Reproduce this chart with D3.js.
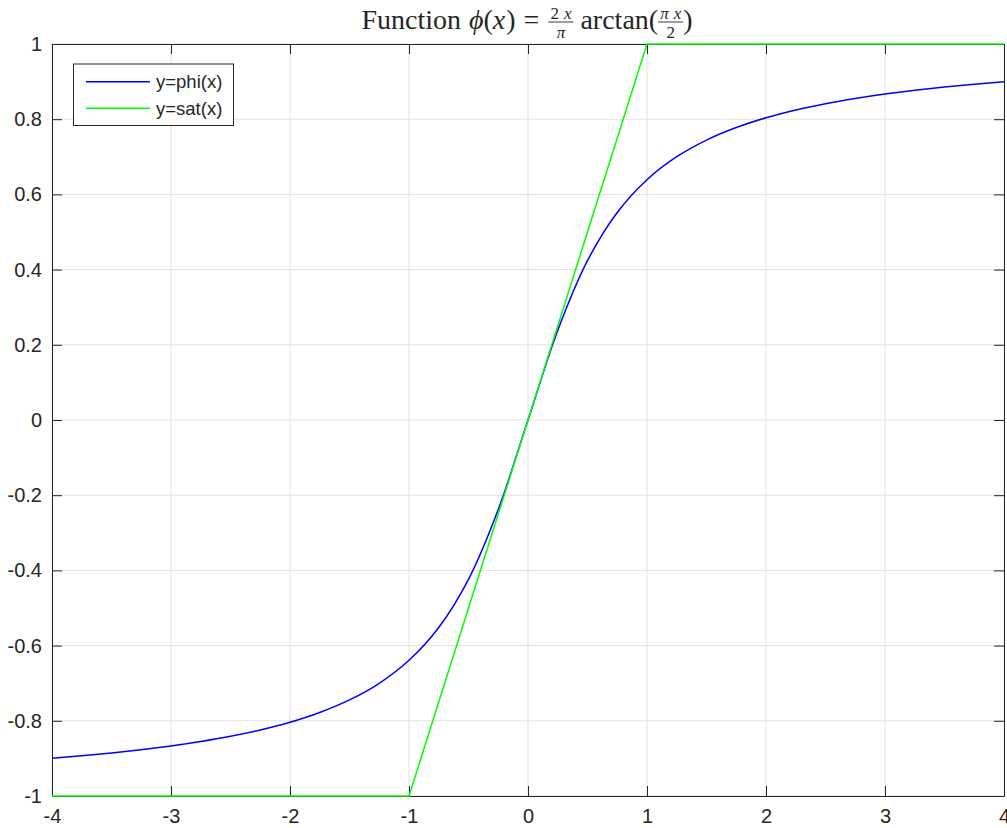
<!DOCTYPE html>
<html>
<head>
<meta charset="utf-8">
<script src="https://cdn.jsdelivr.net/npm/d3@7"></script>
<style>
  body { margin: 0; background: #fff; }
  text { font-family: "Liberation Sans", Arial, sans-serif; fill: #262626; }
</style>
</head>
<body>
<div id="chart"></div>
<script>
var width = 1007, height = 828
var margin = {left: 52, right: 3, top: 44, bottom: 32}

// Data
var phiX = [-4, -3.75, -3.5, -3.25, -3, -2.75, -2.5, -2.25, -2, -1.75, -1.5, -1.25, -1, -0.75, -0.5, -0.25,
            0, 0.25, 0.5, 0.75, 1, 1.25, 1.5, 1.75, 2, 2.25, 2.5, 2.75, 3, 3.25, 3.5, 3.75, 4]
var phiY = [-0.8995, -0.8929, -0.8855, -0.8769, -0.8669, -0.8552, -0.8413, -0.8245, -0.8038, -0.7778, -0.7445, -0.7002,
            -0.6391, -0.5519, -0.4238, -0.2383, 0, 0.2383, 0.4238, 0.5519, 0.6391, 0.7002, 0.7445, 0.7778, 0.8038,
            0.8245, 0.8413, 0.8552, 0.8669, 0.8769, 0.8855, 0.8929, 0.8995]
var satX = [-4, -1, 1, 4]
var satY = [-1, -1, 1, 1]
var xTicks = [-4, -3, -2, -1, 0, 1, 2, 3, 4]
var yTicks = [-1, -0.8, -0.6, -0.4, -0.2, 0, 0.2, 0.4, 0.6, 0.8, 1]
var seriesNames = ["y=phi(x)", "y=sat(x)"]
var seriesColors = ["#0000ff", "#00ff00"]

var svg = d3.select("#chart").append("svg")
    .attr("width", width)
    .attr("height", height)

var x = d3.scaleLinear().domain([-4, 4]).range([margin.left, width - margin.right])
var y = d3.scaleLinear().domain([-1, 1]).range([height - margin.bottom, margin.top])

// grid
svg.append("g").selectAll("line").data(xTicks).enter().append("line")
    .attr("x1", d => x(d)).attr("x2", d => x(d))
    .attr("y1", y(-1)).attr("y2", y(1))
    .attr("stroke", "#e1e1e1")
svg.append("g").selectAll("line").data(yTicks).enter().append("line")
    .attr("y1", d => y(d)).attr("y2", d => y(d))
    .attr("x1", x(-4)).attr("x2", x(4))
    .attr("stroke", "#e1e1e1")

// axes, ticks inside on all four sides (plain hyphen for minus, like the original)
var tickLen = 10
var fmt = d => String(+d.toFixed(1))
function styleAxis(g) {
    g.select(".domain").attr("stroke", "#262626")
    g.selectAll(".tick line").attr("stroke", "#262626")
    g.selectAll(".tick text").style("font-size", "20px").attr("fill", "#262626")
}
svg.append("g")
    .attr("transform", "translate(0," + y(-1) + ")")
    .call(d3.axisBottom(x).tickValues(xTicks).tickSizeInner(-tickLen).tickSizeOuter(0).tickPadding(13).tickFormat(fmt))
    .call(styleAxis)
svg.append("g")
    .attr("transform", "translate(0," + y(1) + ")")
    .call(d3.axisTop(x).tickValues(xTicks).tickSizeInner(-tickLen).tickSizeOuter(0).tickFormat(""))
    .call(styleAxis)
svg.append("g")
    .attr("transform", "translate(" + x(-4) + ",0)")
    .call(d3.axisLeft(y).tickValues(yTicks).tickSizeInner(-tickLen).tickSizeOuter(0).tickPadding(10).tickFormat(fmt))
    .call(styleAxis)
svg.append("g")
    .attr("transform", "translate(" + x(4) + ",0)")
    .call(d3.axisRight(y).tickValues(yTicks).tickSizeInner(-tickLen).tickSizeOuter(0).tickFormat(""))
    .call(styleAxis)

// lines
svg.append("path")
    .datum(d3.zip(phiX, phiY))
    .attr("d", d3.line().x(d => x(d[0])).y(d => y(d[1])).curve(d3.curveCatmullRom))
    .attr("fill", "none").attr("stroke", seriesColors[0]).attr("stroke-width", 1.5)
svg.append("path")
    .datum(d3.zip(satX, satY))
    .attr("d", d3.line().x(d => x(d[0])).y(d => y(d[1])))
    .attr("fill", "none").attr("stroke", seriesColors[1]).attr("stroke-width", 1.5)

// legend
var lg = svg.append("g")
lg.append("rect")
    .attr("x", 73.5).attr("y", 64).attr("width", 160).attr("height", 61.5)
    .attr("fill", "#fff").attr("stroke", "#262626")
seriesNames.forEach(function(name, i) {
    var ly = 81.7 + i * 26.6
    lg.append("line").attr("x1", 86).attr("x2", 150).attr("y1", ly).attr("y2", ly)
        .attr("stroke", seriesColors[i]).attr("stroke-width", 1.5)
    lg.append("text").attr("x", 156).attr("y", ly).attr("dy", "0.35em")
        .style("font-size", "18.5px").text(name)
})

// title with fractions
var title = svg.append("g").style("font-family", "'Liberation Serif', 'Times New Roman', serif")
var cursor = 0
function piece(str, italic, gapAfter) {
    var t = title.append("text").attr("x", cursor).attr("y", 0)
        .style("font-family", "inherit").style("font-size", "28px")
        .style("font-style", italic ? "italic" : "normal").text(str)
    cursor += t.node().getComputedTextLength() + (gapAfter || 0)
}
function frac(num, den, gapAfter) {
    var start = cursor
    var g = title.append("g")
    var n = g.append("text").attr("y", -10).style("font-family", "inherit").style("font-size", "17px")
    num.forEach(p => n.append("tspan").attr("dx", p[2] || 0).style("font-style", p[1] ? "italic" : "normal").text(p[0]))
    var d = g.append("text").attr("y", 8.5).style("font-family", "inherit").style("font-size", "17px")
    den.forEach(p => d.append("tspan").style("font-style", p[1] ? "italic" : "normal").text(p[0]))
    var wn = n.node().getComputedTextLength() + 5, wd = d.node().getComputedTextLength()
    var w = Math.max(wn, wd) + 4
    n.attr("x", start + (w - wn) / 2)
    d.attr("x", start + (w - wd) / 2)
    g.append("line").attr("x1", start).attr("x2", start + w).attr("y1", -7).attr("y2", -7)
        .attr("stroke", "#262626").attr("stroke-width", 0.9)
    cursor += w + (gapAfter || 0)
}
piece("Function", false, 8)
piece("\u03d5", true, 0)
piece("(", false, 0)
piece("x", true, 1)
piece(")", false, 8)
piece("=", false, 9)
frac([["2", false], ["x", true, 5]], [["\u03c0", true]], 7)
piece("arctan(", false, 0)
frac([["\u03c0", true], ["x", true, 5]], [["2", false]], 0)
piece(")", false, 0)
title.attr("transform", "translate(" + (527 - cursor / 2) + ",29)")
</script>
</body>
</html>
